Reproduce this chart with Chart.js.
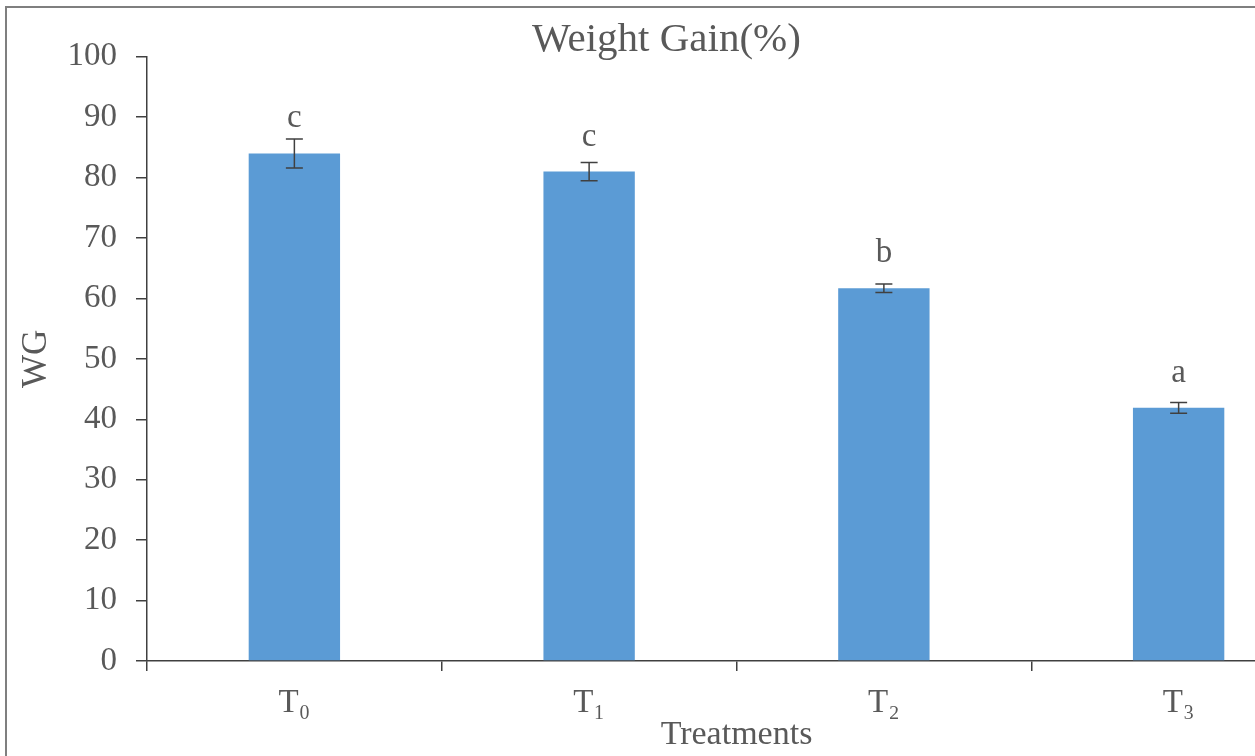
<!DOCTYPE html>
<html>
<head>
<meta charset="utf-8">
<script src="https://cdn.jsdelivr.net/npm/chart.js@4"></script>
<style>
  html, body { margin: 0; padding: 0; background: #fff; overflow: hidden; }
  #frame {
    position: absolute; left: 5px; top: 6px;
    border-top: 2px solid #7f7f7f; border-left: 2px solid #7f7f7f;
    width: 1327px; height: 748px;
  }
  #chart { display: block; }
</style>
</head>
<body>
<div id="frame"><canvas id="chart" width="1327" height="748"></canvas></div>
<script>
// Weight gain per treatment, with standard error and significance letters
const treatments = ['T\u2080', 'T\u2081', 'T\u2082', 'T\u2083'];
const weightGain = [84.0, 81.0, 61.7, 41.9];
const errors = [2.4, 1.5, 0.7, 0.9];
const groupLetters = ['c', 'c', 'b', 'a'];
const yTicks = [0, 10, 20, 30, 40, 50, 60, 70, 80, 90, 100];

const SERIF = "'Liberation Serif', 'Times New Roman', serif";
const TEXT = '#595959';
const AXIS = '#404040';

const errorBarPlugin = {
  id: 'errorBars',
  afterDatasetsDraw(chart) {
    const { ctx, scales: { x, y } } = chart;
    ctx.save();
    ctx.strokeStyle = AXIS;
    ctx.lineWidth = 1.5;
    weightGain.forEach((v, i) => {
      const px = x.getPixelForValue(i);
      const top = y.getPixelForValue(v + errors[i]);
      const bot = y.getPixelForValue(v - errors[i]);
      const half = 8.5;
      ctx.beginPath();
      ctx.moveTo(px, top); ctx.lineTo(px, bot);
      ctx.moveTo(px - half, top); ctx.lineTo(px + half, top);
      ctx.moveTo(px - half, bot); ctx.lineTo(px + half, bot);
      ctx.stroke();
    });
    ctx.fillStyle = TEXT;
    ctx.font = '33px ' + SERIF;
    ctx.textAlign = 'center';
    ctx.textBaseline = 'alphabetic';
    weightGain.forEach((v, i) => {
      const px = x.getPixelForValue(i);
      ctx.fillText(groupLetters[i], px, y.getPixelForValue(v) - 26);
    });
    ctx.restore();
  }
};

new Chart(document.getElementById('chart'), {
  type: 'bar',
  data: {
    labels: treatments,
    datasets: [{
      data: weightGain,
      backgroundColor: '#5b9bd5',
      borderWidth: 0,
      barPercentage: 0.31,
      categoryPercentage: 1.0
    }]
  },
  options: {
    responsive: false,
    animation: false,
    events: [],
    layout: { padding: { left: 0, right: 8, top: 0, bottom: 0 } },
    plugins: {
      legend: { display: false },
      tooltip: { enabled: false },
      title: {
        display: true,
        text: 'Weight Gain(%)',
        color: TEXT,
        font: { family: SERIF, size: 41, weight: 'normal', lineHeight: 0.8 },
        padding: { top: 16, bottom: 0 }
      }
    },
    scales: {
      x: {
        grid: {
          display: true, drawOnChartArea: false, drawTicks: true,
          tickLength: 10, color: AXIS, lineWidth: 1.5, offset: true
        },
        border: { display: true, color: AXIS, width: 1.5 },
        ticks: {
          color: TEXT, padding: 15.5,
          font: { family: SERIF, size: 33, lineHeight: 1.0 }
        },
        title: {
          display: true, text: 'Treatments', color: TEXT,
          font: { family: SERIF, size: 34, lineHeight: 1.0 },
          padding: { top: -17, bottom: 4 }
        }
      },
      y: {
        min: 0, max: 100,
        afterFit(scale) { scale.width = 140; },
        afterBuildTicks(scale) { scale.ticks = yTicks.map(v => ({ value: v })); },
        grid: {
          display: true, drawOnChartArea: false, drawTicks: true,
          tickLength: 11, color: AXIS, lineWidth: 1.5
        },
        border: { display: true, color: AXIS, width: 1.5 },
        ticks: {
          color: TEXT, padding: 19,
          font: { family: SERIF, size: 33 }
        },
        title: {
          display: true, text: 'WG', color: TEXT,
          font: { family: SERIF, size: 35, lineHeight: 1.0 },
          padding: { top: 12, bottom: 0 }
        }
      }
    }
  },
  plugins: [errorBarPlugin]
});
</script>
</body>
</html>
